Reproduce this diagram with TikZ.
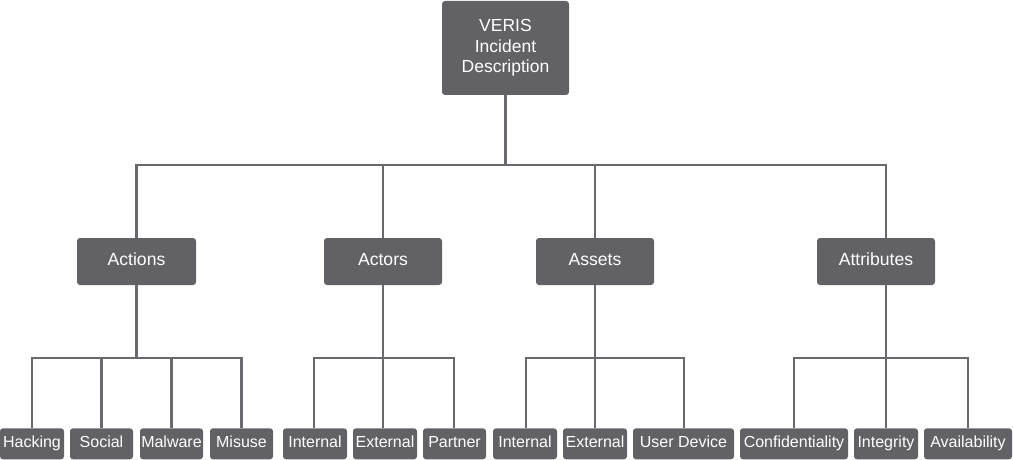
\documentclass[tikz,border=0pt]{standalone}
\usepackage{fontspec}
\setmainfont{Liberation Sans}
\definecolor{boxgray}{HTML}{626266}
\definecolor{linegray}{HTML}{6A6A6E}
\begin{document}
\begin{tikzpicture}[x=1pt,y=-1pt,
  box/.style={draw=none,fill=boxgray,rounded corners=3pt,text=white,inner sep=0pt},
  bigbox/.style={box,font=\fontsize{17.6}{20.5}\selectfont,minimum height=47pt,text height=0.8em,text depth=0.1em},
  leaf/.style={box,font=\fontsize{16}{18}\selectfont,minimum height=31pt,text height=0.8em,text depth=0.1em},
  conn/.style={draw=linegray,line width=2.8pt,line join=miter}]
\useasboundingbox (0,0) rectangle (1013,460);
\coordinate (barA) at (0,165);
\coordinate (barB) at (0,358);
% top
\node[box,align=center,font=\fontsize{17.5}{20.5}\selectfont,minimum width=127pt,minimum height=94pt] (top) at (505.5,48) {VERIS\\Incident\\Description};
% middle
\node[bigbox,minimum width=119pt] (actions) at (136.5,261.5) {Actions};
\node[bigbox,minimum width=118pt] (actors) at (383,261.5) {Actors};
\node[bigbox,minimum width=118pt] (assets) at (595,261.5) {Assets};
\node[bigbox,minimum width=118pt] (attributes) at (876,261.5) {Attributes};
% bottom
\node[leaf,minimum width=64pt] (hacking) at (32,443.8) {Hacking};
\node[leaf,minimum width=63pt] (social) at (101.5,443.8) {Social};
\node[leaf,minimum width=63pt] (malware) at (171.5,443.8) {Malware};
\node[leaf,minimum width=63pt] (misuse) at (241.5,443.8) {Misuse};
\node[leaf,minimum width=64pt] (int1) at (315,443.8) {Internal};
\node[leaf,minimum width=64pt] (ext1) at (385,443.8) {External};
\node[leaf,minimum width=63pt] (partner) at (454.5,443.8) {Partner};
\node[leaf,minimum width=64pt] (int2) at (525,443.8) {Internal};
\node[leaf,minimum width=64pt] (ext2) at (595,443.8) {External};
\node[leaf,minimum width=101pt] (userdev) at (683.5,443.8) {User Device};
\node[leaf,minimum width=108pt] (conf) at (794,443.8) {Confidentiality};
\node[leaf,minimum width=64pt] (integ) at (886,443.8) {Integrity};
\node[leaf,minimum width=88pt] (avail) at (968,443.8) {Availability};
% connectors top level
\draw[conn] (top.south) -- (top.south |- barA);
\draw[conn] (actions.north) |- ([xshift=10pt]attributes.north |- barA) -- ([xshift=10pt]attributes.north);
\draw[conn] (actors.north) -- (actors.north |- barA);
\draw[conn] (assets.north) -- (assets.north |- barA);
% actions group
\draw[conn] (actions.south) -- (actions.south |- barB);
\draw[conn] (hacking.north) |- (misuse.north |- barB) -- (misuse.north);
\draw[conn] (social.north) -- (social.north |- barB);
\draw[conn] (malware.north) -- (malware.north |- barB);
% actors group
\draw[conn] (actors.south) -- (actors.south |- ext1.north);
\draw[conn] ([xshift=-1pt]int1.north) |- ([xshift=-0.5pt]partner.north |- barB) -- ([xshift=-0.5pt]partner.north);
% assets group
\draw[conn] (assets.south) -- (assets.south |- ext2.north);
\draw[conn] ([xshift=1pt]int2.north) |- ([xshift=0.5pt]userdev.north |- barB) -- ([xshift=0.5pt]userdev.north);
% attributes group
\draw[conn] ([xshift=10pt]attributes.south) -- (integ.north);
\draw[conn] (conf.north) |- (avail.north |- barB) -- (avail.north);
\end{tikzpicture}
\end{document}
